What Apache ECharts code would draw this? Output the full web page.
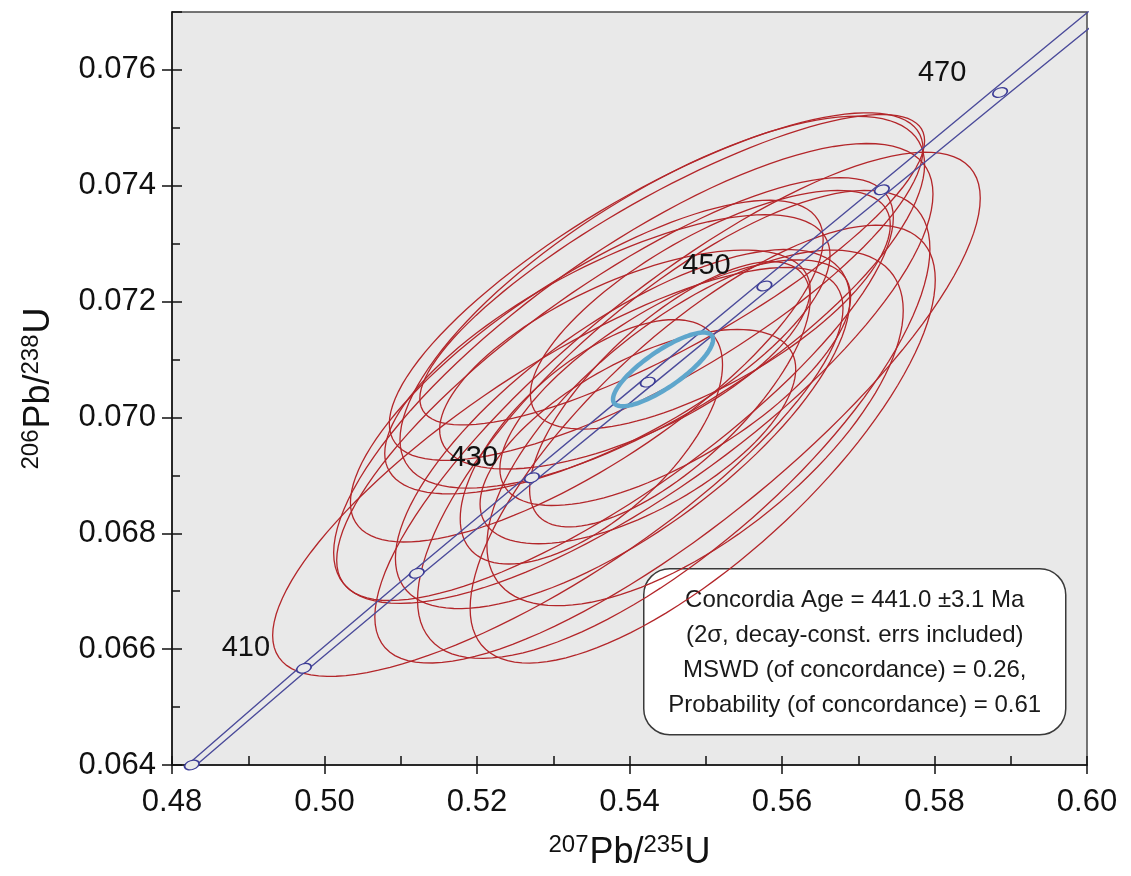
<!DOCTYPE html>
<html>
<head>
<meta charset="utf-8">
<script src="https://cdn.jsdelivr.net/npm/echarts@6/dist/echarts.min.js"></script>
<style>
  html, body { margin: 0; padding: 0; background: #fff; }
  #chart { width: 1131px; height: 876px; }
</style>
</head>
<body>
<div id="chart"></div>
<script>
// concordia reference points (age in Ma, 207Pb/235U, 206Pb/238U)
const concordiaAges = [390, 400, 410, 420, 430, 440, 450, 460, 470, 480];
const concordiaX = [0.4680, 0.4826, 0.4973, 0.5121, 0.5272, 0.5424, 0.5577, 0.5731, 0.5886, 0.6043];
const concordiaY = [0.06237, 0.06400, 0.06567, 0.06731, 0.06896, 0.07061, 0.07227, 0.07393, 0.07561, 0.07730];
// decay-constant error band, left and right edge (207Pb/235U)
const bandLeftX = [0.4675, 0.4820, 0.4966, 0.5113, 0.5263, 0.5414, 0.5566, 0.5719, 0.5873, 0.6029];
const bandRightX = [0.4686, 0.4832, 0.4980, 0.5129, 0.5281, 0.5434, 0.5588, 0.5743, 0.5899, 0.6057];
const markerAges = [400, 410, 420, 430, 440, 450, 460, 470];
const labelAges = [410, 430, 450, 470];

// analysis error ellipses: centre, half-extent in x and y, correlation
const ellCx = [0.5435, 0.5443, 0.5306, 0.5463, 0.5456, 0.5405, 0.5381, 0.5344, 0.5371, 0.5458,
               0.5486, 0.5394, 0.5453, 0.5350, 0.5411, 0.5391, 0.5496, 0.5506, 0.5460];
const ellCy = [0.07226, 0.07199, 0.06906, 0.07017, 0.07255, 0.07076, 0.07049, 0.07080, 0.07109, 0.06988,
               0.06982, 0.07100, 0.07040, 0.06958, 0.06967, 0.06980, 0.06954, 0.07186, 0.07060];
const ellSx = [0.0350, 0.0344, 0.0374, 0.0397, 0.0331, 0.0393, 0.0365, 0.0310, 0.0292, 0.0336,
               0.0273, 0.0243, 0.0184, 0.0172, 0.0207, 0.0298, 0.0305, 0.0236, 0.0230];
const ellSy = [0.00300, 0.00321, 0.00353, 0.00441, 0.00268, 0.00397, 0.00365, 0.00295, 0.00241, 0.00404,
               0.00307, 0.00189, 0.00229, 0.00211, 0.00185, 0.00310, 0.00378, 0.00206, 0.00212];
const ellRho = [0.79, 0.74, 0.80, 0.82, 0.83, 0.78, 0.81, 0.77, 0.71, 0.75,
                0.66, 0.64, 0.72, 0.63, 0.63, 0.72, 0.75, 0.71, 0.70];

// concordia age ellipse
const ageEllipse = [0.5444, 0.07083, 0.00656, 0.000636, 0.81];

const infoLines = [
  "Concordia Age = 441.0 \u00b13.1 Ma",
  "(2\u03c3, decay-const. errs included)",
  "MSWD (of concordance) = 0.26,",
  "Probability (of concordance) = 0.61"
];

const FONT = "Liberation Sans, Arial, Helvetica, sans-serif";
const ELLIPSE_RED = "#b3262a";
const CONCORDIA_BLUE = "#4b4b9a";

function ellipseRenderer(color, width) {
  return function (params, api) {
    const cx = api.value(0);
    const cy = api.value(1);
    const sx = api.value(2);
    const sy = api.value(3);
    const rho = api.value(4);
    const k = Math.sqrt(1 - rho * rho);
    const points = [];
    for (let i = 0; i < 120; i++) {
      const t = (i / 120) * Math.PI * 2;
      points.push(api.coord([
        cx + sx * Math.cos(t),
        cy + sy * (rho * Math.cos(t) + k * Math.sin(t))
      ]));
    }
    return {
      type: "polygon",
      shape: { points },
      style: { fill: "none", stroke: color, lineWidth: width }
    };
  };
}

const ellipseData = ellCx.map((cx, i) => [cx, ellCy[i], ellSx[i], ellSy[i], ellRho[i]]);
const markerData = markerAges.map((age) => {
  const i = concordiaAges.indexOf(age);
  return [concordiaX[i], concordiaY[i], age];
});
const labelData = labelAges.map((age) => {
  const i = concordiaAges.indexOf(age);
  return [concordiaX[i], concordiaY[i], age];
});

const chart = echarts.init(document.getElementById("chart"));

const axisTextColor = "#111";
const axisLineStyle = { color: "#111", width: 1.5 };
const titleRich = {
  sup: { fontFamily: FONT, fontSize: 24, color: axisTextColor, verticalAlign: "top", padding: [0, 1, 16, 0] },
  base: { fontFamily: FONT, fontSize: 36, color: axisTextColor }
};

chart.setOption({
  backgroundColor: "#ffffff",
  animation: false,
  grid: {
    left: 172,
    right: 44,
    top: 12,
    bottom: 109,
    show: true,
    backgroundColor: "#e9e9e9",
    borderColor: "#4a4a4a",
    borderWidth: 1.5
  },
  xAxis: [
    {
      type: "value",
      min: 0.48,
      max: 0.60,
      interval: 0.02,
      position: "bottom",
      axisLine: { lineStyle: axisLineStyle },
      axisTick: { show: true, inside: false, length: 9, lineStyle: axisLineStyle },
      axisLabel: {
        color: axisTextColor,
        fontFamily: FONT,
        fontSize: 31,
        margin: 22,
        formatter: (v) => v.toFixed(2)
      },
      splitLine: { show: false },
      name: "{sup|207}{base|Pb/}{sup|235}{base|U}",
      nameLocation: "middle",
      nameGap: 68,
      nameTextStyle: { rich: titleRich }
    },
    {
      type: "value",
      min: 0.48,
      max: 0.60,
      interval: 0.02,
      position: "bottom",
      axisLine: { show: false },
      axisTick: { show: true, inside: true, length: 9, lineStyle: axisLineStyle },
      minorTick: { show: true, splitNumber: 2, length: 9, lineStyle: axisLineStyle },
      axisLabel: { show: false },
      splitLine: { show: false }
    }
  ],
  yAxis: [
    {
      type: "value",
      min: 0.064,
      max: 0.077,
      interval: 0.002,
      position: "left",
      axisLine: { lineStyle: axisLineStyle },
      axisTick: { show: true, inside: false, length: 10, lineStyle: axisLineStyle },
      axisLabel: {
        color: axisTextColor,
        fontFamily: FONT,
        fontSize: 31,
        margin: 16,
        showMaxLabel: false,
        formatter: (v) => v.toFixed(3)
      },
      splitLine: { show: false },
      name: "{sup|206}{base|Pb/}{sup|238}{base|U}",
      nameLocation: "middle",
      nameGap: 113,
      nameRotate: 90,
      nameTextStyle: { rich: titleRich }
    },
    {
      type: "value",
      min: 0.064,
      max: 0.077,
      interval: 0.002,
      position: "left",
      axisLine: { show: false },
      axisTick: { show: true, inside: true, length: 10, lineStyle: axisLineStyle },
      minorTick: { show: true, splitNumber: 2, length: 8, lineStyle: axisLineStyle },
      axisLabel: { show: false },
      splitLine: { show: false }
    }
  ],
  series: [
    {
      type: "custom",
      name: "analyses",
      clip: true,
      renderItem: ellipseRenderer(ELLIPSE_RED, 1.3),
      data: ellipseData,
      z: 2
    },
    {
      type: "line",
      name: "band left",
      data: concordiaY.map((y, i) => [bandLeftX[i], y]),
      showSymbol: false,
      clip: true,
      lineStyle: { color: CONCORDIA_BLUE, width: 1.4 },
      z: 3
    },
    {
      type: "line",
      name: "band right",
      data: concordiaY.map((y, i) => [bandRightX[i], y]),
      showSymbol: false,
      clip: true,
      lineStyle: { color: CONCORDIA_BLUE, width: 1.4 },
      z: 3
    },
    {
      type: "custom",
      name: "concordia age",
      clip: true,
      renderItem: ellipseRenderer("#5ea6cc", 4.5),
      data: [ageEllipse],
      z: 4
    },
    {
      type: "scatter",
      name: "age markers",
      data: markerData,
      symbol: "circle",
      symbolSize: [15, 9],
      symbolRotate: 18,
      itemStyle: { color: "#e9e9e9", borderColor: "#3c3c96", borderWidth: 1.4, opacity: 1 },
      z: 5
    },
    {
      type: "scatter",
      name: "age labels",
      data: labelData,
      symbolSize: 0,
      silent: true,
      itemStyle: { opacity: 1 },
      label: {
        show: true,
        position: "inside",
        offset: [-58, -20],
        formatter: (p) => String(p.value[2]),
        fontFamily: FONT,
        fontSize: 29,
        color: "#111111",
        opacity: 1,
        textBorderWidth: 0
      },
      z: 6
    }
  ],
  graphic: [
    {
      type: "group",
      left: 643,
      top: 568,
      z: 10,
      children: [
        {
          type: "rect",
          shape: { x: 0, y: 0, width: 422, height: 166, r: 26 },
          style: { fill: "#ffffff", stroke: "#3a3a3a", lineWidth: 1.5 }
        },
        {
          type: "text",
          x: 211,
          y: 84,
          style: {
            text: infoLines.join("\n"),
            fontFamily: FONT,
            fontSize: 24,
            lineHeight: 35,
            fill: "#1a1a1a",
            align: "center",
            verticalAlign: "middle"
          }
        }
      ]
    }
  ]
});
</script>
</body>
</html>
